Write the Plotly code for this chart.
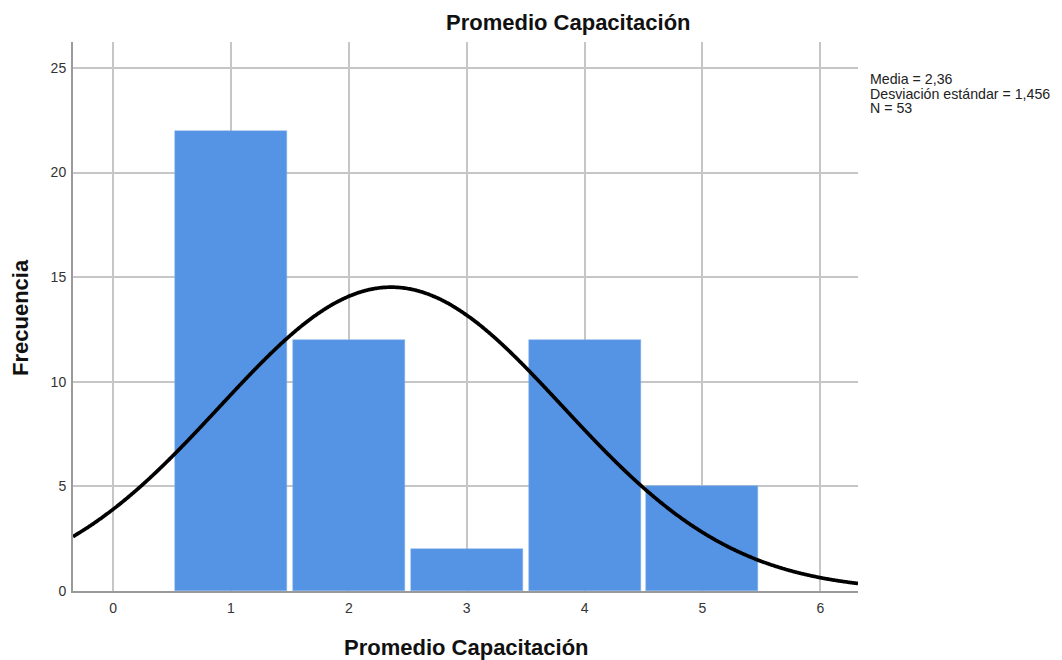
import numpy as np
import plotly.graph_objects as go

categories = [1, 2, 3, 4, 5]
frequencies = [22, 12, 2, 12, 5]
mean_val = 2.36
sd_val = 1.456
n_val = 53
bin_width = 1.0
x_ticks = [0, 1, 2, 3, 4, 5, 6]
y_ticks = [0, 5, 10, 15, 20, 25]
stats_lines = [
    f"Media = {str(mean_val).replace('.', ',')}",
    f"Desviación estándar = {str(sd_val).replace('.', ',')}",
    f"N = {n_val}",
]

OFF = 8  # default page body margin
W, H = 1062 - OFF, 660 - OFF
L, T = 73 - OFF, 42 - OFF
R = W - (858 - OFF)
B = H - (591 - OFF)
pw = W - L - R
ph = H - T - B

xs = np.linspace(-0.34, 6.32, 600)
ys = n_val * bin_width / (sd_val * np.sqrt(2 * np.pi)) * np.exp(-0.5 * ((xs - mean_val) / sd_val) ** 2)

fig = go.Figure()
fig.add_trace(go.Bar(
    x=categories, y=frequencies, width=0.95,
    marker=dict(color="#5594E4", line=dict(color="#7FAEEB", width=0.5)),
    hoverinfo="skip", showlegend=False,
))
fig.add_trace(go.Scatter(
    x=xs, y=ys, mode="lines", line=dict(color="black", width=3.7, shape="spline"),
    hoverinfo="skip", showlegend=False,
))

font = "Liberation Sans, Arial, sans-serif"
fig.update_layout(
    width=W, height=H,
    margin=dict(l=L, r=R, t=T, b=B),
    paper_bgcolor="white", plot_bgcolor="white",
    font=dict(family=font, color="#222"),
    xaxis=dict(range=[-0.34, 6.32], tickvals=x_ticks, ticktext=[str(v) for v in x_ticks],
               showgrid=True, gridcolor="#C6C6C6", gridwidth=1.6, zeroline=False,
               showline=True, linecolor="#9A9A9A", linewidth=2,
               ticks="", tickfont=dict(size=14, color="#333"), ticklabelstandoff=3),
    yaxis=dict(range=[0, 26.24], tickvals=y_ticks, ticktext=[str(v) for v in y_ticks],
               showgrid=True, gridcolor="#C6C6C6", gridwidth=1.6, zeroline=False,
               showline=True, linecolor="#9A9A9A", linewidth=2,
               ticks="", tickfont=dict(size=14, color="#333"), ticklabelstandoff=2),
    bargap=0,
)

def px_x(px):
    return (px - OFF - L) / pw

def px_y(py):
    return (H - B - (py - OFF)) / ph

fig.add_annotation(text="<b>Promedio Capacitación</b>", xref="paper", yref="paper",
                   x=px_x(568), y=px_y(22), showarrow=False, xanchor="center", yanchor="middle",
                   font=dict(size=22, color="#111", family=font))
fig.add_annotation(text="<b>Promedio Capacitación</b>", xref="paper", yref="paper",
                   x=px_x(466), y=px_y(648), showarrow=False, xanchor="center", yanchor="middle",
                   font=dict(size=22, color="#111", family=font))
fig.add_annotation(text="<b>Frecuencia</b>", xref="paper", yref="paper",
                   x=px_x(20), y=px_y(318), showarrow=False, xanchor="center", yanchor="middle",
                   textangle=-90, font=dict(size=22, color="#111", family=font))
for line, cy in zip(stats_lines, [79, 94, 108]):
    fig.add_annotation(text=line, xref="paper", yref="paper", x=px_x(868), y=px_y(cy),
                       showarrow=False, xanchor="left", yanchor="middle", align="left",
                       font=dict(size=14.2, color="#222", family=font))

fig.write_html("out.html")
